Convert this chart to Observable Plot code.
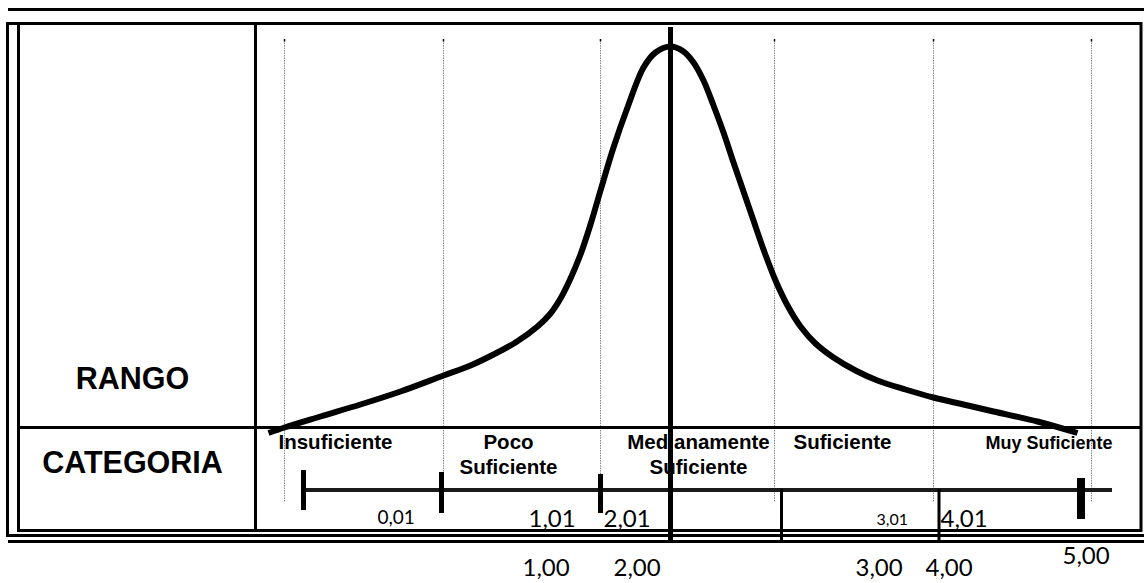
<!DOCTYPE html>
<html>
<head>
<meta charset="utf-8">
<script src="https://cdn.jsdelivr.net/npm/d3@7"></script>
<script src="https://cdn.jsdelivr.net/npm/@observablehq/plot@0.6"></script>
<style>
  html, body { margin: 0; padding: 0; background: #fff; }
  #chart svg { display: block; }
</style>
</head>
<body>
<div id="chart"></div>
<script>
// ---------- DATA (diagram units: x along the page, y down the page) ----------
// Bell-shaped curve
const curveX = [268, 284, 320, 360, 400, 443, 470, 493, 515, 537, 550, 560, 570, 580, 590, 600, 613, 627, 643, 655, 670,
                683, 693, 703, 713, 723, 733, 743, 753, 763, 775, 787, 800, 815, 833, 855, 877, 905, 933, 963, 993, 1037, 1077];
const curveY = [432.5, 427, 416, 404, 391, 375, 365, 354, 342, 326, 313, 298, 278, 254, 224, 190, 147, 107, 67, 52, 46,
                51, 62, 80, 105, 132, 162, 191, 220, 249, 280, 305, 326, 343, 357, 370, 380, 389, 397, 404, 411, 421, 432.5];

// Row headers
const rowHeaders = ["RANGO", "CATEGORIA"];
const rowHeaderX = [132, 132];
const rowHeaderY = [388, 472];

// Category labels (start-anchored, then centred two-line ones)
const categoriesStart = ["Insuficiente", "Suficiente"];
const categoriesStartX = [278, 793];
const categoriesCentered = ["Poco", "Suficiente", "Medianamente", "Suficiente"];
const categoriesCenteredX = [508, 508, 698, 698];
const categoriesCenteredY = [448, 473, 448, 473];
const categorySmall = ["Muy Suficiente"];
const categorySmallX = [985];

// Scale labels
const lowerBounds = ["0,01", "1,01", "2,01", "4,01"];
const lowerBoundsX = [377, 528, 603, 940];
const lowerBoundsY = [523, 526, 526, 526];
const lowerSmall = ["3,01"];
const lowerSmallX = [876];
const upperBounds = ["1,00", "2,00", "3,00", "4,00", "5,00"];
const upperBoundsX = [522, 613, 855, 925, 1062];
const upperBoundsY = [575, 575, 575, 575, 563];

// Scale tick positions on the range axis
const scaleTicksX = [303, 441, 600];
const scaleTicksTop = [470, 472, 474];
const scaleTicksBottom = [510, 513, 513];
const endTickX = [1080.5];
const dividerX = [781, 938.5];
const medianX = [670];

// Dotted guide lines
const guidesX = [284, 443, 600, 774, 933, 1091];

// Table frame
const frameH = [
  {x1: 8, x2: 1144, y: 9},
  {x1: 6, x2: 1142, y: 23},
  {x1: 18, x2: 1141, y: 427},
  {x1: 18, x2: 1141, y: 530},
  {x1: 6, x2: 1144, y: 535},
  {x1: 8, x2: 1144, y: 541}
];
const frameV = [
  {x: 7, y1: 22, y2: 537},
  {x: 18, y1: 22, y2: 532},
  {x: 255, y1: 22, y2: 532},
  {x: 1140.5, y1: 22, y2: 532}
];
const axisLine = [{x1: 302, x2: 1112, y: 489.5}];

// ---------- BUILD ----------
const W = 1144, H = 583;
const curve = curveX.map((x, i) => ({x, y: curveY[i]}));
const zip = (labels, xs, ys) => labels.map((t, i) => ({t, x: xs[i], y: Array.isArray(ys) ? ys[i] : ys}));

const boldFont = "Liberation Sans, Arial, sans-serif";
const numFont = "Lato, 'Open Sans', sans-serif";

const chart = Plot.plot({
  width: W,
  height: H,
  margin: 0,
  x: {type: "linear", domain: [0, W], range: [0, W], axis: null},
  y: {type: "linear", domain: [0, H], range: [0, H], axis: null},
  style: {background: "#fff"},
  marks: [
    // dotted guides
    Plot.ruleX(guidesX, {x: d => d, y1: 40, y2: 502, stroke: "#8a8a8a", strokeWidth: 1, strokeDasharray: "1.5,1"}),
    Plot.ruleX(guidesX, {x: d => d, y1: 39, y2: 41.5, stroke: "#000", strokeWidth: 1.5}),
    // frame
    Plot.ruleY(frameH, {x1: "x1", x2: "x2", y: "y", stroke: "#000", strokeWidth: 3}),
    Plot.ruleX(frameV, {x: "x", y1: "y1", y2: "y2", stroke: "#000", strokeWidth: 3}),
    // range axis
    Plot.ruleY(axisLine, {x1: "x1", x2: "x2", y: "y", stroke: "#1a1a1a", strokeWidth: 4}),
    Plot.ruleX(scaleTicksX, {x: d => d, y1: (d, i) => scaleTicksTop[i], y2: (d, i) => scaleTicksBottom[i], stroke: "#000", strokeWidth: 5}),
    Plot.ruleX(endTickX, {x: d => d, y1: 478, y2: 519, stroke: "#000", strokeWidth: 8}),
    Plot.ruleX(dividerX, {x: d => d, y1: 489, y2: 540, stroke: "#000", strokeWidth: 3}),
    // curve
    Plot.line(curve, {x: "x", y: "y", curve: "catmull-rom", stroke: "#000", strokeWidth: 6, strokeLinecap: "butt"}),
    // median line
    Plot.ruleX(medianX, {x: d => d, y1: 27, y2: 541, stroke: "#000", strokeWidth: 5}),
    // row headers
    Plot.text(zip(rowHeaders, rowHeaderX, rowHeaderY), {x: "x", y: "y", text: "t", textAnchor: "middle", lineAnchor: "bottom",
      fontFamily: boldFont, fontWeight: "bold", fontSize: 30.5, fill: "#000"}),
    // categories
    Plot.text(zip(categoriesStart, categoriesStartX, 448), {x: "x", y: "y", text: "t", textAnchor: "start", lineAnchor: "bottom",
      fontFamily: boldFont, fontWeight: "bold", fontSize: 20.5, fill: "#000"}),
    Plot.text(zip(categoriesCentered, categoriesCenteredX, categoriesCenteredY), {x: "x", y: "y", text: "t", textAnchor: "middle", lineAnchor: "bottom",
      fontFamily: boldFont, fontWeight: "bold", fontSize: 20.5, fill: "#000"}),
    Plot.text(zip(categorySmall, categorySmallX, 448), {x: "x", y: "y", text: "t", textAnchor: "start", lineAnchor: "bottom",
      fontFamily: boldFont, fontWeight: "bold", fontSize: 18, fill: "#000"}),
    // scale numbers
    Plot.text(zip(lowerBounds, lowerBoundsX, lowerBoundsY), {x: "x", y: "y", text: "t", textAnchor: "start", lineAnchor: "bottom",
      fontFamily: numFont, fontSize: (d, i) => (i === 0 ? 19 : 24), fill: "#000"}),
    Plot.text(zip(lowerSmall, lowerSmallX, 524), {x: "x", y: "y", text: "t", textAnchor: "start", lineAnchor: "bottom",
      fontFamily: numFont, fontSize: 16, fill: "#000"}),
    Plot.text(zip(upperBounds, upperBoundsX, upperBoundsY), {x: "x", y: "y", text: "t", textAnchor: "start", lineAnchor: "bottom",
      fontFamily: numFont, fontSize: 24, fill: "#000"})
  ]
});
document.getElementById("chart").appendChild(chart);
</script>
</body>
</html>
